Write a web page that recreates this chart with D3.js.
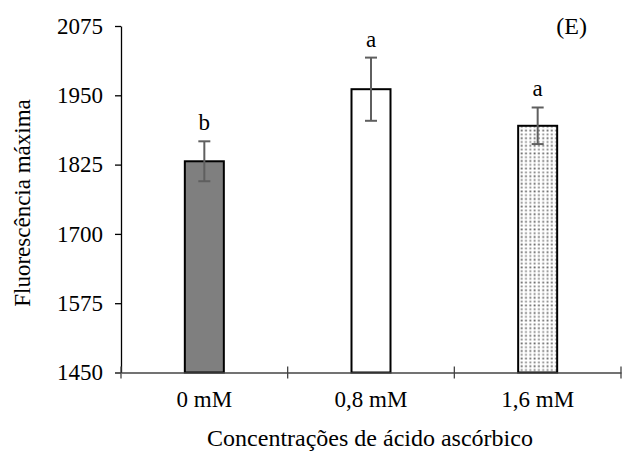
<!DOCTYPE html>
<html><head><meta charset="utf-8">
<script src="https://cdn.jsdelivr.net/npm/d3@7"></script>
<style>body{margin:0;background:#fff}svg{display:block}text{font-family:"Liberation Serif","Times New Roman",serif;fill:#000}</style>
</head><body><svg id="c" width="633" height="452"></svg>
<script>
const categories = ["0 mM", "0,8 mM", "1,6 mM"];
const values = [1831, 1961, 1895];
const errors = [36, 57, 33];
const letters = ["b", "a", "a"];
const yTicks = [1450, 1575, 1700, 1825, 1950, 2075];
const fills = ["gray", "white", "dots"];

const svg = d3.select("#c");
const L = 121, R = 621, T = 26, B = 372.5;
const FS = "23px";
const x = d3.scaleBand().domain(categories).range([L, R]).paddingInner(0).paddingOuter(0);
const y = d3.scaleLinear().domain([1450, 2075]).range([B, T]);

const defs = svg.append("defs");
const pat = defs.append("pattern").attr("id", "dots").attr("patternUnits", "userSpaceOnUse")
  .attr("width", 4.3).attr("height", 7.6);
pat.append("rect").attr("width", 4.3).attr("height", 7.6).attr("fill", "#fff");
pat.append("rect").attr("x", 0.5).attr("y", 0.5).attr("width", 1.8).attr("height", 1.8).attr("fill", "#666");
pat.append("rect").attr("x", 0.5).attr("y", 4.3).attr("width", 1.8).attr("height", 1.8).attr("fill", "#888");

const bw = 39;
const fillOf = f => f === "gray" ? "#7f7f7f" : f === "white" ? "#fff" : "url(#dots)";

svg.selectAll("rect.bar").data(categories).enter().append("rect")
  .attr("class", "bar")
  .attr("x", d => x(d) + x.bandwidth() / 2 - bw / 2)
  .attr("y", (d, i) => y(values[i]))
  .attr("width", bw)
  .attr("height", (d, i) => B - y(values[i]))
  .attr("fill", (d, i) => fillOf(fills[i]))
  .attr("stroke", "#000").attr("stroke-width", 2);

const ya = svg.append("g").attr("transform", `translate(${L},0)`)
  .call(d3.axisLeft(y).tickValues(yTicks).tickSize(6).tickSizeOuter(0).tickPadding(12).tickFormat(d3.format("d")));
ya.select(".domain").attr("stroke", "#000").attr("stroke-width", 1.3);
ya.selectAll(".tick line").attr("stroke", "#000").attr("stroke-width", 1.3);
ya.selectAll("text").style("font-size", FS).style("font-family", "Liberation Serif");

const xa = svg.append("g").attr("transform", `translate(0,${B})`)
  .call(d3.axisBottom(x).tickSize(0).tickPadding(18));
xa.select(".domain").attr("stroke", "#444").attr("stroke-width", 1.5);
xa.selectAll("text").style("font-size", FS).style("font-family", "Liberation Serif");
const bounds = [L, ...categories.map(c => x(c) + x.bandwidth())];
svg.selectAll("line.bt").data(bounds).enter().append("line")
  .attr("x1", d => d).attr("x2", d => d).attr("y1", B - 6).attr("y2", B + 6)
  .attr("stroke", "#444").attr("stroke-width", 1.3);

const eg = svg.append("g").attr("stroke", "#5f5f5f").attr("stroke-width", 2);
categories.forEach((c, i) => {
  const cx = x(c) + x.bandwidth() / 2;
  eg.append("line").attr("x1", cx).attr("x2", cx).attr("y1", y(values[i] + errors[i])).attr("y2", y(values[i] - errors[i]));
  [values[i] + errors[i], values[i] - errors[i]].forEach(v => {
    eg.append("line").attr("x1", cx - 6).attr("x2", cx + 6).attr("y1", y(v)).attr("y2", y(v));
  });
  svg.append("text").attr("x", cx).attr("y", y(values[i] + errors[i]) - 11)
    .attr("text-anchor", "middle").style("font-size", FS).text(letters[i]);
});

svg.append("text").attr("x", 587).attr("y", 34).attr("text-anchor", "end").style("font-size", "24px").text("(E)");

svg.append("text").attr("transform", "translate(30,203) rotate(-90)").attr("text-anchor", "middle")
  .style("font-size", FS).text("Fluorescência máxima");
svg.append("text").attr("x", 370).attr("y", 446).attr("text-anchor", "middle")
  .style("font-size", "24px").text("Concentrações de ácido ascórbico");
</script></body></html>
